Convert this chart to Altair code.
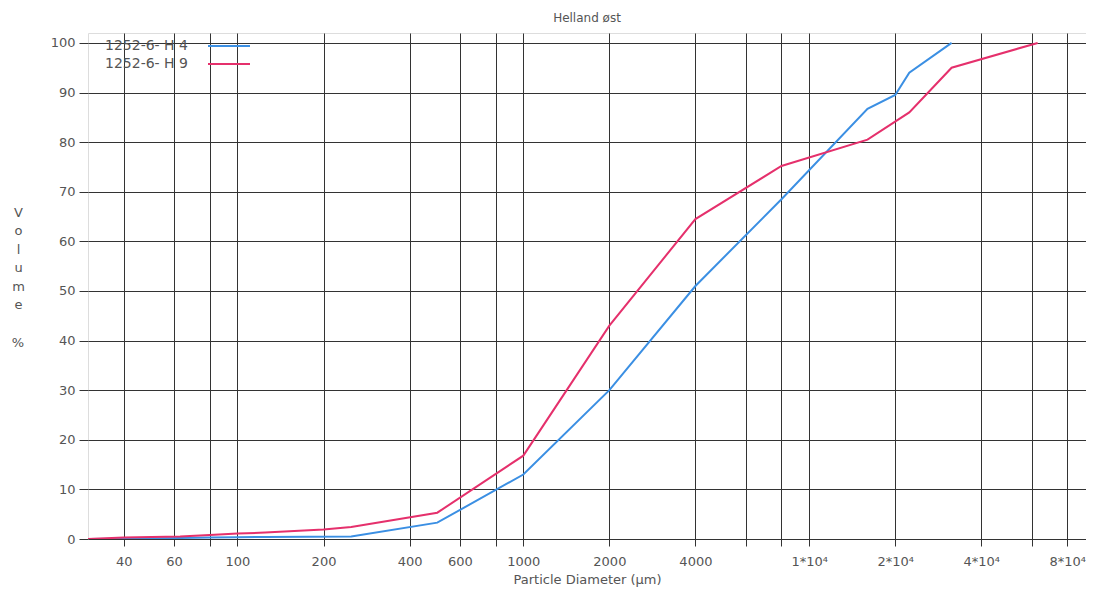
import altair as alt
import pandas as pd

# ---- data ----
series_names = ["1252-6- H 4", "1252-6- H 9"]
series_colors = ["#3b8fe3", "#e5306c"]

sizes_h4 = [30, 40, 63, 80, 100, 125, 250, 500, 1000, 2000, 4000, 8000, 16000, 20000, 22400, 31500]
vol_h4 = [0, 0.05, 0.2, 0.3, 0.35, 0.4, 0.5, 3.3, 13.0, 30.0, 51.0, 68.5, 86.7, 89.5, 94.0, 100.0]

sizes_h9 = [30, 40, 63, 80, 100, 125, 200, 250, 500, 1000, 2000, 4000, 8000, 16000, 22400, 31500, 63000]
vol_h9 = [0, 0.3, 0.5, 0.8, 1.1, 1.3, 1.9, 2.4, 5.3, 16.8, 43.0, 64.5, 75.2, 80.5, 86.0, 95.0, 100.0]

x_grid_values = [40, 60, 80, 100, 200, 400, 600, 800, 1000, 2000, 4000, 6000, 8000,
                 10000, 20000, 40000, 60000, 80000]
x_label_values = [40, 60, 100, 200, 400, 600, 1000, 2000, 4000, 10000, 20000, 40000, 80000]
x_label_texts = ["40", "60", "100", "200", "400", "600", "1000", "2000", "4000",
                 "1*10⁴", "2*10⁴", "4*10⁴", "8*10⁴"]
y_tick_values = [0, 10, 20, 30, 40, 50, 60, 70, 80, 90, 100]

title_text = "Helland øst"
x_title = "Particle Diameter (µm)"
y_title = ["V", "o", "l", "u", "m", "e"]
y_title_unit = "%"

# ---- build table ----
rows = []
for s, v in zip(sizes_h4, vol_h4):
    rows.append({"size": s, "volume": v, "series": series_names[0], "order": len(rows)})
for s, v in zip(sizes_h9, vol_h9):
    rows.append({"size": s, "volume": v, "series": series_names[1], "order": len(rows)})
df = pd.DataFrame(rows)

label_expr = ""
for v, t in zip(x_label_values, x_label_texts):
    label_expr += f"datum.value == {v} ? '{t}' : "
label_expr += "''"

FONT = "DejaVu Sans"
TXT = "#555555"
GRID = "#333333"

lines = alt.Chart(df).mark_line(strokeWidth=2, clip=True).encode(
    x=alt.X(
        "size:Q",
        scale=alt.Scale(type="log", domain=[30, 93000], nice=False),
        axis=alt.Axis(
            values=x_grid_values,
            labelExpr=label_expr,
            grid=True,
            gridColor=GRID,
            gridWidth=1,
            tickColor=GRID,
            tickSize=7,
            domain=False,
            labelColor=TXT,
            labelFont=FONT,
            labelFontSize=13,
            labelPadding=9,
            labelOverlap=False,
            title=x_title,
            titleColor=TXT,
            titleFont=FONT,
            titleFontSize=13,
            titleFontWeight="normal",
            titlePadding=5,
        ),
    ),
    y=alt.Y(
        "volume:Q",
        scale=alt.Scale(domain=[0, 102], nice=False),
        axis=alt.Axis(
            values=y_tick_values,
            grid=True,
            gridColor=GRID,
            gridWidth=1,
            tickColor=GRID,
            tickSize=9,
            domain=False,
            labelColor=TXT,
            labelFont=FONT,
            labelFontSize=13,
            labelPadding=4,
            title=y_title,
            titleAngle=0,
            titleX=-70,
            titleY=173,
            titleAlign="center",
            titleBaseline="top",
            titleLineHeight=18.5,
            titleColor=TXT,
            titleFont=FONT,
            titleFontSize=13,
            titleFontWeight="normal",
        ),
    ),
    color=alt.Color("series:N",
                    scale=alt.Scale(domain=series_names, range=series_colors),
                    legend=None),
    order="order:Q",
)

unit_text = alt.Chart(pd.DataFrame({"t": [y_title_unit]})).mark_text(
    align="center", baseline="middle", font=FONT, fontSize=13, color=TXT
).encode(text="t:N", x=alt.value(-70), y=alt.value(310))

legend_layers = []
for i, (name, col) in enumerate(zip(series_names, series_colors)):
    ypos = 13 + i * 18
    legend_layers.append(
        alt.Chart(pd.DataFrame({"t": [name]})).mark_text(
            align="left", baseline="middle", font=FONT, fontSize=14, color=TXT
        ).encode(text="t:N", x=alt.value(17), y=alt.value(ypos))
    )
    legend_layers.append(
        alt.Chart(pd.DataFrame({"t": [name]})).mark_rule(color=col, strokeWidth=2).encode(
            x=alt.value(120), x2=alt.value(162), y=alt.value(ypos)
        )
    )

chart = alt.layer(lines, unit_text, *legend_layers).properties(
    width=998,
    height=506,
    title=alt.Title(title_text, font=FONT, fontSize=12, fontWeight="normal",
                    color=TXT, anchor="middle", offset=8),
    padding={"left": 80, "top": 25, "right": 0, "bottom": 49},
    autosize=alt.AutoSizeParams(type="none"),
).configure_view(stroke="#555555", strokeWidth=1.5).configure(background="white")

chart.save("out.html", embed_options={"renderer": "svg", "actions": False})
